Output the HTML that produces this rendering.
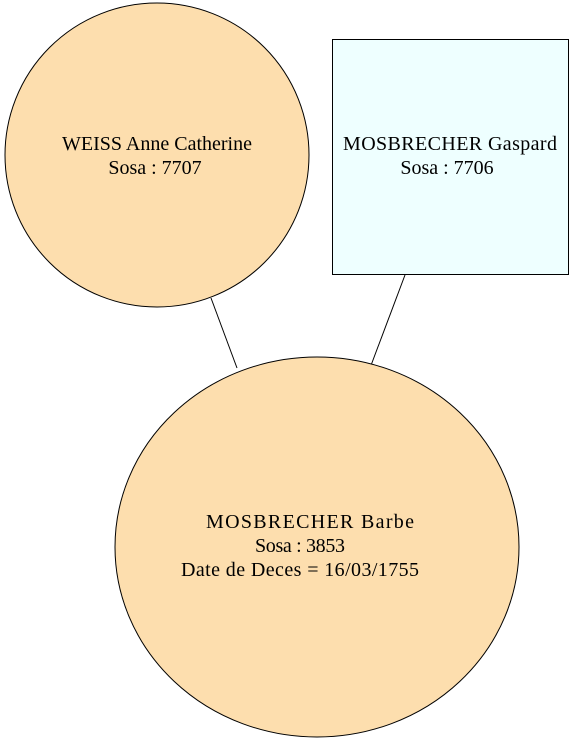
<!DOCTYPE html>
<html><head><meta charset="utf-8"><style>html,body{margin:0;padding:0;background:#fff}</style></head>
<body>
<svg width="574" height="739" viewBox="0 0 574 739" xmlns="http://www.w3.org/2000/svg" font-family="Liberation Serif, serif" font-size="20" text-anchor="middle">
<rect width="574" height="739" fill="#fff"/>
<line x1="211" y1="298" x2="237" y2="368" stroke="#000" stroke-width="1"/>
<line x1="405" y1="275" x2="370" y2="368" stroke="#000" stroke-width="1"/>
<circle cx="157" cy="155" r="152" fill="#fddeae" stroke="#000"/>
<rect x="332.5" y="39.5" width="236" height="235" fill="#eeffff" stroke="#000"/>
<ellipse cx="317" cy="547" rx="202" ry="190" fill="#fddeae" stroke="#000"/>
<text x="157" y="150">WEISS Anne Catherine</text>
<text x="155" y="174">Sosa : 7707</text>
<text x="450" y="150" textLength="214">MOSBRECHER Gaspard</text>
<text x="447" y="174">Sosa : 7706</text>
<text x="310" y="528" textLength="208">MOSBRECHER Barbe</text>
<text x="300" y="552" textLength="90">Sosa : 3853</text>
<text x="300" y="576" textLength="238">Date de Deces = 16/03/1755</text>
</svg>
</body></html>
